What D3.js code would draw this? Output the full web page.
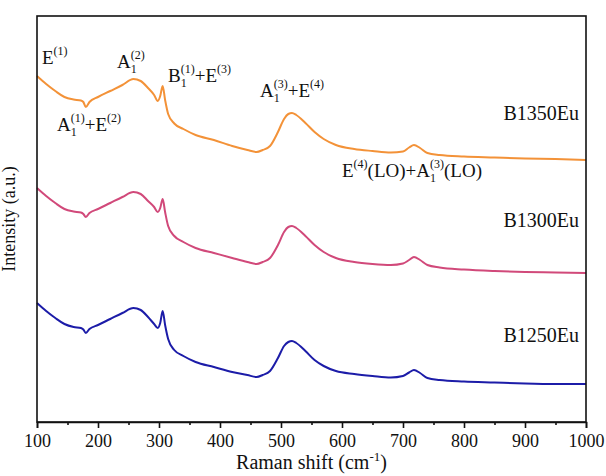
<!DOCTYPE html>
<html>
<head>
<meta charset="utf-8">
<script src="https://cdn.jsdelivr.net/npm/d3@7"></script>
<style>
  html, body { margin: 0; padding: 0; background: #fff; }
  svg { display: block; }
  text { font-family: "Liberation Serif", "Times New Roman", serif; fill: #111; }
</style>
</head>
<body>
<div id="chart"></div>
<script>
// Raman shift grid (cm^-1)
const shift = [100,115,130,145,160,172,176,180,186,200,220,240,258,270,282,292,298,302,306,310,315,325,340,360,390,420,445,460,470,482,495,505,512,518,525,540,555,570,590,620,650,680,700,710,718,728,740,760,800,850,900,950,1000];

// Intensities (a.u., stacked offsets as drawn)
const b1350 = [346,338,331,325,322.5,321.5,320,315,320,325,331,337,343,341,334,327,321,326,336,322,308,298.5,293,287,282,276,272,270,272,276,290,303,308,309,307,299,290,283,277,273,271,269.5,270.5,274.5,277,274,269,267,265.5,264.5,263.5,263,262];
const b1300 = [234,226,219,213,210.5,209.5,208,205,209,213,219,225,230,228,221,215,210,214,223,210,196,186,180,174,169,164,160,158,160,164,177,190,195,196,194,186,177,170,164,160,158,157,158.5,162,165,162,157,154.5,152.5,151,150,149.5,149];
const b1250 = [119,111,104,98,95,94,92.5,89,93,97,103,109,114,112,105,98,94,99,111,97,83,72,66,60,55,50,47,45,47,51,64,76,80,81,79,71,62,56,51,48,46,44.5,46,49.5,52,49,44,42,40.5,39.5,38.5,38,38];

const seriesNames = ["B1350Eu", "B1300Eu", "B1250Eu"];
const seriesColors = ["#F39238", "#D1497A", "#1C1CA8"];
const seriesLabelY = [302, 195, 80]; // label baseline in intensity units

const xTicks = [100,200,300,400,500,600,700,800,900,1000];
const xMinorTicks = [150,250,350,450,550,650,750,850,950];

const W = 606, H = 476;
const m = {left: 37, right: 20, top: 16, bottom: 54};
const x = d3.scaleLinear().domain([100, 1000]).range([m.left, W - m.right]);
const y = d3.scaleLinear().domain([0, 406]).range([H - m.bottom, m.top]);

const svg = d3.select("#chart").append("svg").attr("width", W).attr("height", H);

// Lines
const line = d3.line().x(d => x(d[0])).y(d => y(d[1])).curve(d3.curveMonotoneX);
[b1350, b1300, b1250].forEach((vals, i) => {
  svg.append("path")
    .datum(shift.map((s, k) => [s, vals[k]]))
    .attr("fill", "none")
    .attr("stroke", seriesColors[i])
    .attr("stroke-width", 2)
    .attr("stroke-linejoin", "round")
    .attr("d", line);
});

// Frame
svg.append("rect")
  .attr("x", x(100)).attr("y", y(406))
  .attr("width", x(1000) - x(100)).attr("height", y(0) - y(406))
  .attr("fill", "none").attr("stroke", "#111").attr("stroke-width", 1.6);

// Bottom axis
const xAxis = d3.axisBottom(x).tickValues(xTicks).tickSize(6).tickPadding(6).tickFormat(d3.format("d"));
const gx = svg.append("g").attr("transform", `translate(0,${y(0)})`).call(xAxis);
gx.select(".domain").attr("stroke", "#111").attr("stroke-width", 1.6);
gx.selectAll(".tick line").attr("stroke", "#111").attr("stroke-width", 1.6);
gx.selectAll(".tick text").style("font-family", '"Liberation Serif", serif').style("font-size", "18px").attr("fill", "#111");
const gxm = svg.append("g").attr("transform", `translate(0,${y(0)})`)
  .call(d3.axisBottom(x).tickValues(xMinorTicks).tickSize(3).tickFormat(""));
gxm.select(".domain").remove();
gxm.selectAll(".tick line").attr("stroke", "#111").attr("stroke-width", 1.6);

// Rich label helper
function rich(g, px, py, parts, size) {
  const small = Math.round(size * 0.64);
  const t = g.append("text").attr("x", px).attr("y", py).style("font-size", size + "px");
  let off = 0, lastSubW = 0;
  parts.forEach(([txt, kind]) => {
    const target = kind === "sub" ? size * 0.28 : (kind === "sup" || kind === "supback") ? -size * 0.45 : 0;
    const ts = t.append("tspan").text(txt)
      .style("font-size", (kind === "n" ? size : small) + "px")
      .attr("dy", target - off);
    if (kind === "supback") ts.attr("dx", -lastSubW);
    off = target;
    if (kind === "sub") lastSubW = ts.node().getComputedTextLength();
  });
  return t;
}

const g = svg.append("g");
const fs = 19;
rich(g, 42, 64, [["E","n"],["(1)","sup"]], fs);
rich(g, 117, 68, [["A","n"],["1","sub"],["(2)","supback"]], fs);
rich(g, 168, 82, [["B","n"],["1","sub"],["(1)","supback"],["+E","n"],["(3)","sup"]], fs);
rich(g, 57, 131, [["A","n"],["1","sub"],["(1)","supback"],["+E","n"],["(2)","sup"]], fs);
rich(g, 260, 97, [["A","n"],["1","sub"],["(3)","supback"],["+E","n"],["(4)","sup"]], fs);
rich(g, 342, 177, [["E","n"],["(4)","sup"],["(LO)+A","n"],["1","sub"],["(3)","supback"],["(LO)","n"]], fs);

// Series labels
seriesNames.forEach((n, i) => {
  svg.append("text").attr("x", 579).attr("y", y(seriesLabelY[i]))
    .attr("text-anchor", "end").style("font-size", "20px").text(n);
});

// Axis titles
const xt = svg.append("text").attr("x", x(550)).attr("y", 469).attr("text-anchor", "middle").style("font-size", "20px");
xt.append("tspan").text("Raman shift (cm");
xt.append("tspan").text("-1").style("font-size", "13px").attr("dy", -8);
xt.append("tspan").text(")").attr("dy", 8);

svg.append("text").attr("transform", `translate(15,${(y(0) + y(406)) / 2}) rotate(-90)`)
  .attr("text-anchor", "middle").style("font-size", "18px").text("Intensity (a.u.)");
</script>
</body>
</html>
